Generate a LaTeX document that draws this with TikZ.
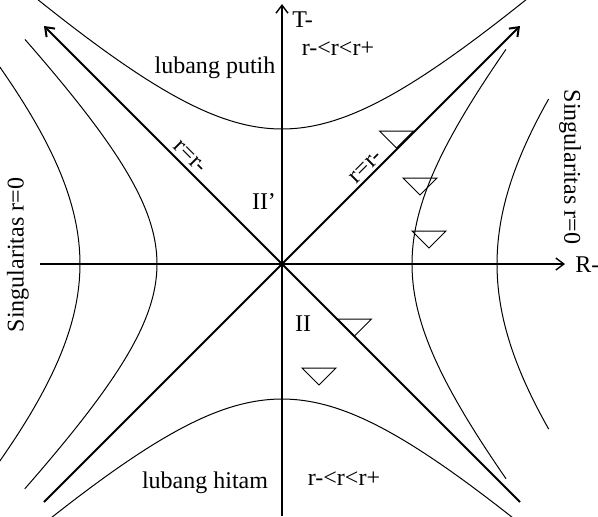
\documentclass[tikz,border=0pt]{standalone}
\usepackage{fontspec}
\setmainfont{Liberation Serif}
\usetikzlibrary{arrows.meta}
\begin{document}
\begin{tikzpicture}[x=0.5pt, y=0.5pt, >={Straight Barb[length=4pt, width=6pt]},
    garis/.style={line width=0.5pt},
    kerucut/.style={line width=0.5pt, line join=miter},
    teks/.style={font=\fontsize{12}{14}\selectfont, inner sep=0pt}]
    \useasboundingbox (-282,-252) rectangle (316,264);
    % Sumbu R dan T
    \coordinate (Rkiri) at (-242,0);
    \coordinate (Rkanan) at (283,0);
    \coordinate (Tbawah) at (0,-252);
    \coordinate (Tatas) at (0,260);
    \draw[->, line width=0.7pt] (Rkiri) -- (Rkanan);
    \draw[->, line width=0.7pt] (Tbawah) -- (Tatas);
    \node[teks, anchor=west] (R) at (293,-1) {R-};
    \node[teks, anchor=west] (T) at (10,244) {T-};
    % Horizon r=r-
    \coordinate (SW) at (-238,-238);
    \coordinate (NE) at (238,238);
    \coordinate (SE) at (238,-238);
    \coordinate (NW) at (-238,238);
    \draw[->, line width=1pt] (SW) -- (NE);
    \draw[->, line width=1pt] (SE) -- (NW);
    % Hiperbola r = konstan
    \begin{scope}
        \clip (-282,-252) rectangle (316,264);
        \draw[garis, variable=\t, domain=-1.35:1.35, samples=80]
            plot ({145*sinh(\t)}, {135*cosh(\t)});
        \draw[garis, variable=\t, domain=-1.35:1.35, samples=80]
            plot ({145*sinh(\t)}, {-135*cosh(\t)});
        \draw[garis, variable=\t, domain=-1.14:1.14, samples=80]
            plot ({130*cosh(\t)}, {153*sinh(\t)});
        \draw[garis, variable=\t, domain=-0.68:0.68, samples=60]
            plot ({215*cosh(\t)}, {225*sinh(\t)});
        \draw[garis, variable=\t, domain=-1.35:1.35, samples=80]
            plot ({-125*cosh(\t)}, {125*sinh(\t)});
        \draw[garis, variable=\t, domain=-1:1, samples=60]
            plot ({-202*cosh(\t)}, {202*sinh(\t)});
    \end{scope}
    % Kerucut cahaya
    \foreach \x/\y in {114.5/133, 138/86, 147/33, 72.5/-55, 37/-104} {
        \draw[kerucut] (\x-17,\y) -- (\x+17,\y) -- (\x,\y-17) -- cycle;
    }
    % Label
    \node[teks, rotate=-45] (rkiri) at (-92,107) {r=r-};
    \node[teks, rotate=45] (rkanan) at (84,97) {r=r-};
    \node[teks] (putih) at (-67,196) {lubang putih};
    \node[teks] (atas) at (56,215) {r-<r<r+};
    \node[teks] (hitam) at (-77,-219) {lubang hitam};
    \node[teks] (bawah) at (62,-215) {r-<r<r+};
    \node[teks] (IIa) at (-18,62) {II'};
    \node[teks] (II) at (21,-60) {II};
    \node[teks, rotate=90] (singkiri) at (-264,9) {Singularitas r=0};
    \node[teks, rotate=-90] (singkanan) at (288,97) {Singularitas r=0};
\end{tikzpicture}
\end{document}
